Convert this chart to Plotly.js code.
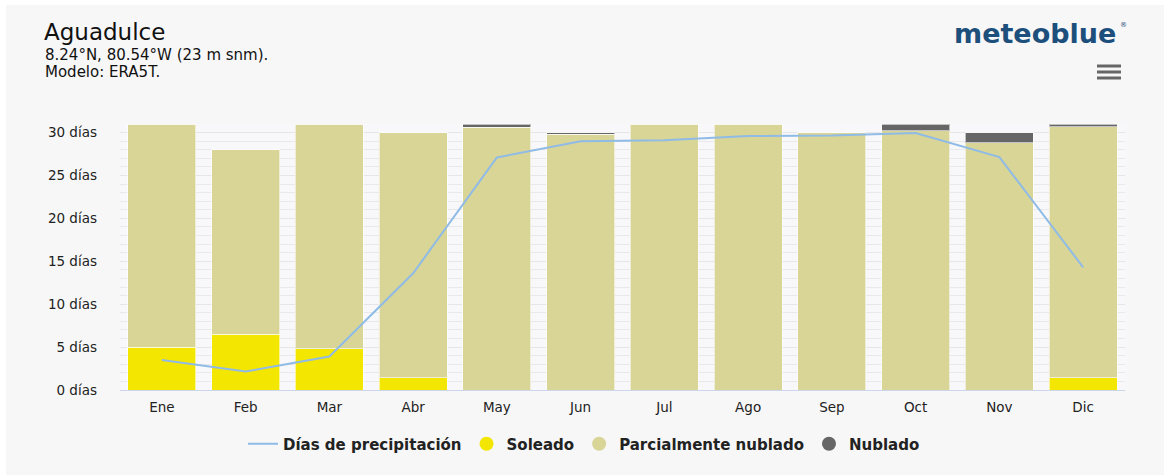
<!DOCTYPE html>
<html>
<head>
<meta charset="utf-8">
<script src="https://cdn.plot.ly/plotly-3.0.1.min.js"></script>
<style>
  html, body { margin: 0; padding: 0; background: #ffffff; width: 1164px; height: 475px; overflow: hidden; }
  #chart { position: absolute; left: 6px; top: 5px; width: 1158px; height: 470px; }
</style>
</head>
<body>
<div id="chart"></div>
<script>
// ---- data ----
const months = ['Ene','Feb','Mar','Abr','May','Jun','Jul','Ago','Sep','Oct','Nov','Dic'];
const soleado = [5.0, 6.5, 4.8, 1.4, 0, 0, 0, 0, 0, 0, 0, 1.4];
const parcialmenteNublado = [26.0, 21.5, 26.2, 28.6, 30.65, 29.8, 31.0, 31.0, 30.0, 30.2, 28.8, 29.3];
const nublado = [0, 0, 0, 0, 0.35, 0.2, 0, 0, 0, 0.8, 1.2, 0.3];
const diasPrecipitacion = [3.5, 2.15, 3.9, 13.6, 27.1, 29.0, 29.1, 29.6, 29.65, 29.95, 27.15, 14.3];
const yTickVals = [0, 5, 10, 15, 20, 25, 30];
const yTickText = ['0 días','5 días','10 días','15 días','20 días','25 días','30 días'];

// ---- layout helpers (page pixels -> paper fractions) ----
const W = 1158, H = 470, ML = 114, MR = 39, MT = 119, MB = 85;
const PW = W - ML - MR, PH = H - MT - MB;
const px = x => (x - 6 - ML) / PW;
const py = y => ((5 + H - MB) - y) / PH;

const FONT = 'DejaVu Sans';
const cSun = '#f3e600', cPart = '#d8d596', cCloud = '#666666', cLine = '#8fbbe6';

const traces = [
  { type: 'bar', x: months, y: soleado, name: 'Soleado', showlegend: false,
    marker: { color: cSun, line: { color: 'rgba(255,255,255,0.6)', width: 1 } }, hoverinfo: 'skip' },
  { type: 'bar', x: months, y: parcialmenteNublado, name: 'Parcialmente nublado', showlegend: false,
    marker: { color: cPart, line: { color: 'rgba(255,255,255,0.6)', width: 1 } }, hoverinfo: 'skip' },
  { type: 'bar', x: months, y: nublado, name: 'Nublado', showlegend: false,
    marker: { color: cCloud, line: { color: 'rgba(255,255,255,0.6)', width: 1 } }, hoverinfo: 'skip' },
  { type: 'scatter', mode: 'lines', x: months, y: diasPrecipitacion, name: 'Días de precipitación',
    line: { color: cLine, width: 2 }, legendrank: 1 },
  { type: 'scatter', mode: 'markers', x: [null], y: [null], name: 'Soleado', legendrank: 2,
    marker: { color: cSun, size: 14, symbol: 'circle' } },
  { type: 'scatter', mode: 'markers', x: [null], y: [null], name: 'Parcialmente nublado', legendrank: 3,
    marker: { color: cPart, size: 14, symbol: 'circle' } },
  { type: 'scatter', mode: 'markers', x: [null], y: [null], name: 'Nublado', legendrank: 4,
    marker: { color: cCloud, size: 14, symbol: 'circle' } }
];

const hamburger = [66, 72, 78].map(y => ({
  type: 'line', xref: 'paper', yref: 'paper', x0: px(1097), x1: px(1121), y0: py(y), y1: py(y),
  line: { color: '#666666', width: 3 }
}));

const layout = {
  width: W, height: H,
  margin: { l: ML, r: MR, t: MT, b: MB, pad: 0 },
  paper_bgcolor: '#f7f7f7',
  plot_bgcolor: '#f8f8fa',
  barmode: 'stack',
  bargap: 0.19,
  showlegend: true,
  font: { family: FONT, color: '#333333', size: 13 },
  xaxis: {
    type: 'category',
    showline: true, linecolor: '#ccd6eb', linewidth: 1,
    showgrid: false, ticks: '', zeroline: false,
    tickfont: { family: FONT, size: 13.5, color: '#222222' },
    ticklabelstandoff: 5,
    fixedrange: true
  },
  yaxis: {
    range: [0, 31],
    tickvals: yTickVals, ticktext: yTickText,
    showgrid: true, gridcolor: '#e6e6e6', gridwidth: 1,
    minor: { dtick: 1, showgrid: true, gridcolor: '#e9e9e9', gridwidth: 1 },
    zeroline: false, showline: false, ticks: '',
    tickfont: { family: FONT, size: 13.5, color: '#222222' },
    ticklabelstandoff: 22,
    fixedrange: true
  },
  legend: {
    orientation: 'h', xref: 'paper', yref: 'paper',
    x: px(584), xanchor: 'center', y: py(444), yanchor: 'middle',
    font: { family: FONT, size: 15, color: '#222222', weight: 'bold' },
    itemwidth: 30, bgcolor: 'rgba(0,0,0,0)', traceorder: 'normal'
  },
  shapes: hamburger,
  annotations: [
    { text: 'Aguadulce', xref: 'paper', yref: 'paper', x: px(42), y: py(32), xanchor: 'left', yanchor: 'middle',
      showarrow: false, font: { family: FONT, size: 23, color: '#111111' } },
    { text: '8.24°N, 80.54°W (23 m snm).', xref: 'paper', yref: 'paper', x: px(43), y: py(55), xanchor: 'left', yanchor: 'middle',
      showarrow: false, font: { family: FONT, size: 15, color: '#111111' } },
    { text: 'Modelo: ERA5T.', xref: 'paper', yref: 'paper', x: px(43), y: py(72), xanchor: 'left', yanchor: 'middle',
      showarrow: false, font: { family: FONT, size: 15, color: '#111111' } },
    { text: 'meteoblue', xref: 'paper', yref: 'paper', x: px(1118), y: py(34), xanchor: 'right', yanchor: 'middle',
      showarrow: false, font: { family: FONT, size: 27, color: '#1d4f7c', weight: 'bold' } },
    { text: '®', xref: 'paper', yref: 'paper', x: px(1118), y: py(25), xanchor: 'left', yanchor: 'middle',
      showarrow: false, font: { family: FONT, size: 7, color: '#1d4f7c' } }
  ]
};

Plotly.newPlot('chart', traces, layout, { displayModeBar: false, staticPlot: true });
</script>
</body>
</html>
